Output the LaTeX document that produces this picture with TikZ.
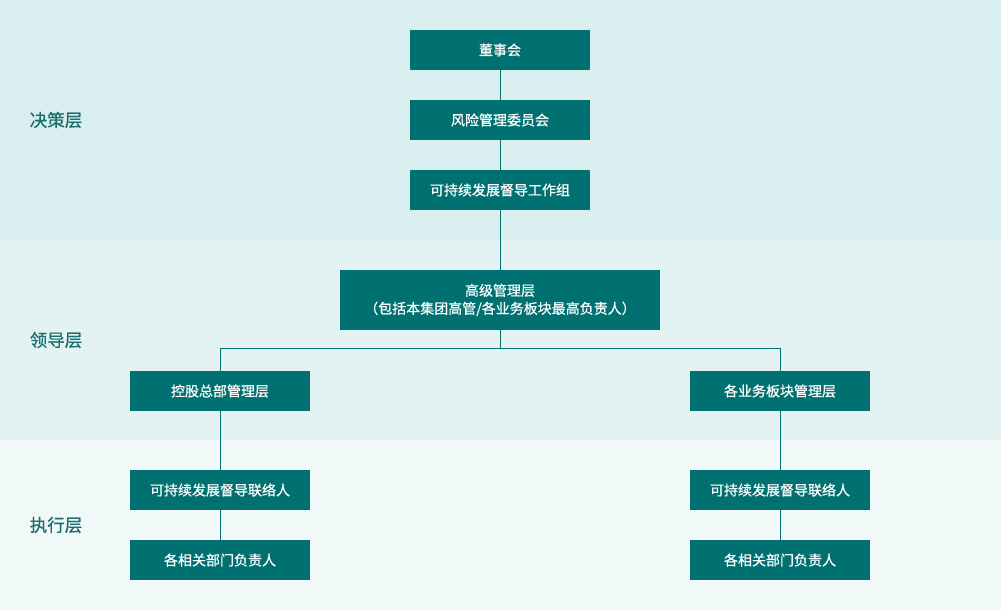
\documentclass[tikz,border=0pt]{standalone}
\usepackage{fontspec}
\setmainfont{Noto Sans CJK SC}
\newfontfamily\boxfont[FakeBold=0.6]{Noto Sans CJK SC}
\definecolor{bandA}{HTML}{D9EEEF}
\definecolor{bandB}{HTML}{E3F3F3}
\definecolor{bandC}{HTML}{F1F9F8}
\definecolor{boxc}{HTML}{007070}
\definecolor{labc}{HTML}{1A6E6E}
\begin{document}
\begin{tikzpicture}[x=1pt,y=-1pt,
  orgbox/.style={fill=boxc,text=white,minimum width=180pt,minimum height=40pt,inner sep=0pt,font=\boxfont\fontsize{14}{18}\selectfont,align=center},
  lvl/.style={text=labc,font=\boxfont\fontsize{17.5}{19}\selectfont},
  conn/.style={draw=boxc,line width=0.8pt}]
\useasboundingbox (0,0) rectangle (1001,610);
\fill[bandA] (0,0) rectangle (1001,240);
\fill[bandB] (0,240) rectangle (1001,440);
\fill[bandC] (0,440) rectangle (1001,610);
\node[lvl] (l1) at (56,120) {决策层};
\node[lvl] (l2) at (56,340) {领导层};
\node[lvl] (l3) at (56,525) {执行层};
\node[orgbox] (a) at (500,50) {董事会};
\node[orgbox] (b) at (500,120) {风险管理委员会};
\node[orgbox] (c) at (500,190) {可持续发展督导工作组};
\node[orgbox,minimum width=320pt,minimum height=60pt] (d) at (500,300) {高级管理层\\（包括本集团高管/各业务板块最高负责人）};
\node[orgbox] (e) at (220,391) {控股总部管理层};
\node[orgbox] (f) at (780,391) {各业务板块管理层};
\node[orgbox] (g) at (220,490) {可持续发展督导联络人};
\node[orgbox] (h) at (780,490) {可持续发展督导联络人};
\node[orgbox] (i) at (220,560) {各相关部门负责人};
\node[orgbox] (j) at (780,560) {各相关部门负责人};
\coordinate (m) at (500,348);
\draw[conn] (a) -- (b);
\draw[conn] (b) -- (c);
\draw[conn] (c) -- (d);
\draw[conn] (d) -- (m);
\draw[conn] (m) -| (e);
\draw[conn] (m) -| (f);
\draw[conn] (e) -- (g);
\draw[conn] (g) -- (i);
\draw[conn] (f) -- (h);
\draw[conn] (h) -- (j);
\end{tikzpicture}
\end{document}
